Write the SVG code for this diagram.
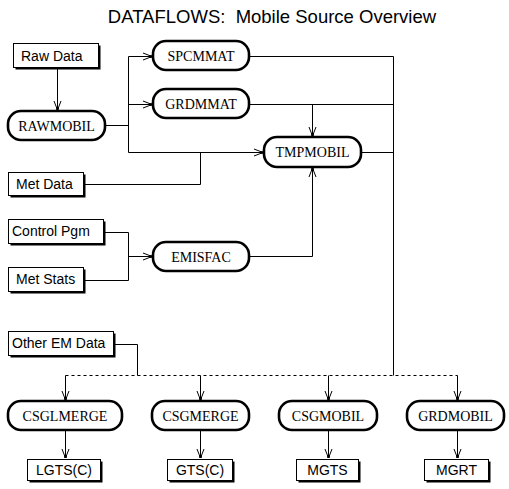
<svg xmlns="http://www.w3.org/2000/svg" width="509" height="489" viewBox="0 0 509 489">
<style>
.title{font-family:"Liberation Sans",Arial,sans-serif;font-size:18.5px;fill:#000;white-space:pre}
.bt{font-family:"Liberation Sans",Arial,sans-serif;font-size:14px;fill:#000}
.pt{font-family:"Liberation Serif","Times New Roman",serif;font-size:14px;fill:#000;text-anchor:middle}
.box{fill:#fff;stroke:#000;stroke-width:1}
.sh{fill:#000}
.pill{fill:#fff;stroke:#000;stroke-width:2.6}
.ln{fill:none;stroke:#000;stroke-width:1}
.dash{fill:none;stroke:#000;stroke-width:1;stroke-dasharray:3 3}
</style>
<defs>
<marker id="arr" viewBox="-10 -5 11 10" refX="0" refY="0" markerWidth="11" markerHeight="10" markerUnits="userSpaceOnUse" orient="auto">
<path d="M-9,-3.5 L0,0 L-9,3.5" fill="none" stroke="#000" stroke-width="1"/>
<rect x="-3" y="-1.3" width="3" height="2.6" fill="#000"/>
</marker>
</defs>
<rect width="509" height="489" fill="#fff"/>
<text class="title" x="272" y="23" text-anchor="middle" xml:space="preserve">DATAFLOWS:  Mobile Source Overview</text>

<g id="connectors">
<line class="ln" x1="57.5" y1="69" x2="57.5" y2="110" marker-end="url(#arr)"/>
<polyline class="ln" points="105,125.5 128.5,125.5"/>
<line class="ln" x1="128.5" y1="56.5" x2="128.5" y2="152.5"/>
<line class="ln" x1="128.5" y1="56.5" x2="152" y2="56.5" marker-end="url(#arr)"/>
<line class="ln" x1="128.5" y1="104.5" x2="152" y2="104.5" marker-end="url(#arr)"/>
<line class="ln" x1="128.5" y1="152.5" x2="263" y2="152.5" marker-end="url(#arr)"/>
<polyline class="ln" points="85,184.5 200.5,184.5 200.5,152.5"/>
<polyline class="ln" points="249,56.5 393.5,56.5 393.5,375.5"/>
<line class="ln" x1="249" y1="104.5" x2="393.5" y2="104.5"/>
<line class="ln" x1="312.5" y1="104.5" x2="312.5" y2="136" marker-end="url(#arr)"/>
<line class="ln" x1="361" y1="152.5" x2="393.5" y2="152.5"/>
<polyline class="ln" points="249,256.5 312.5,256.5 312.5,168" marker-end="url(#arr)"/>
<polyline class="ln" points="105,232.5 128.5,232.5 128.5,280.5 85,280.5"/>
<line class="ln" x1="128.5" y1="256.5" x2="152" y2="256.5" marker-end="url(#arr)"/>
<polyline class="ln" points="115,344.5 137.5,344.5 137.5,375.5"/>
<line class="dash" x1="65.5" y1="375.5" x2="457.5" y2="375.5"/>
<line class="ln" x1="65.5" y1="375.5" x2="65.5" y2="400" marker-end="url(#arr)"/>
<line class="ln" x1="200.5" y1="375.5" x2="200.5" y2="400" marker-end="url(#arr)"/>
<line class="ln" x1="328.5" y1="375.5" x2="328.5" y2="400" marker-end="url(#arr)"/>
<line class="ln" x1="457.5" y1="375.5" x2="457.5" y2="400" marker-end="url(#arr)"/>
<line class="ln" x1="65.5" y1="431" x2="65.5" y2="458" marker-end="url(#arr)"/>
<line class="ln" x1="200.5" y1="431" x2="200.5" y2="458" marker-end="url(#arr)"/>
<line class="ln" x1="328.5" y1="431" x2="328.5" y2="458" marker-end="url(#arr)"/>
<line class="ln" x1="457.5" y1="431" x2="457.5" y2="458" marker-end="url(#arr)"/>
</g>

<g id="rawdata"><rect class="sh" x="15.5" y="45.5" width="85" height="24"/><rect class="box" x="13.5" y="43.5" width="85" height="24"/><text class="bt" x="21" y="61">Raw Data</text></g>
<g id="metdata"><rect class="sh" x="10.5" y="174.5" width="75" height="23"/><rect class="box" x="8.5" y="172.5" width="75" height="23"/><text class="bt" x="16" y="189">Met Data</text></g>
<g id="controlpgm"><rect class="sh" x="10.5" y="221.5" width="95" height="24"/><rect class="box" x="8.5" y="219.5" width="95" height="24"/><text class="bt" x="12" y="236">Control Pgm</text></g>
<g id="metstats"><rect class="sh" x="10.5" y="269.5" width="75" height="24"/><rect class="box" x="8.5" y="267.5" width="75" height="24"/><text class="bt" x="16" y="284">Met Stats</text></g>
<g id="otheremdata"><rect class="sh" x="10.5" y="333.5" width="105" height="24"/><rect class="box" x="8.5" y="331.5" width="105" height="24"/><text class="bt" x="12" y="348">Other EM Data</text></g>

<g id="rawmobil"><rect class="pill" x="8" y="111" width="97" height="29" rx="13"/><text class="pt" x="56.5" y="130.5">RAWMOBIL</text></g>
<g id="spcmmat"><rect class="pill" x="153" y="41" width="96" height="29" rx="13"/><text class="pt" x="201" y="60.5">SPCMMAT</text></g>
<g id="grdmmat"><rect class="pill" x="153" y="89" width="96" height="29" rx="13"/><text class="pt" x="201" y="108.5">GRDMMAT</text></g>
<g id="tmpmobil"><rect class="pill" x="264" y="137" width="97" height="30" rx="13"/><text class="pt" x="312.5" y="157">TMPMOBIL</text></g>
<g id="emisfac"><rect class="pill" x="153" y="242" width="96" height="29" rx="13"/><text class="pt" x="201" y="261.5">EMISFAC</text></g>

<g id="csglmerge"><rect class="pill" x="8" y="401" width="114" height="29" rx="13"/><text class="pt" x="65" y="420.5">CSGLMERGE</text></g>
<g id="csgmerge"><rect class="pill" x="152" y="401" width="97" height="29" rx="13"/><text class="pt" x="200.5" y="420.5">CSGMERGE</text></g>
<g id="csgmobil"><rect class="pill" x="279" y="401" width="98" height="29" rx="13"/><text class="pt" x="328" y="420.5">CSGMOBIL</text></g>
<g id="grdmobil"><rect class="pill" x="407" y="401" width="97" height="29" rx="13"/><text class="pt" x="455.5" y="420.5">GRDMOBIL</text></g>

<g id="lgtsc"><rect class="sh" x="29.5" y="461.5" width="73" height="21"/><rect class="box" x="27.5" y="459.5" width="73" height="21"/><text class="bt" x="64" y="474.5" text-anchor="middle">LGTS(C)</text></g>
<g id="gtsc"><rect class="sh" x="169.5" y="461.5" width="65" height="21"/><rect class="box" x="167.5" y="459.5" width="65" height="21"/><text class="bt" x="200" y="474.5" text-anchor="middle">GTS(C)</text></g>
<g id="mgts"><rect class="sh" x="298.5" y="461.5" width="62" height="21"/><rect class="box" x="296.5" y="459.5" width="62" height="21"/><text class="bt" x="327.5" y="474.5" text-anchor="middle">MGTS</text></g>
<g id="mgrt"><rect class="sh" x="426.5" y="461.5" width="64" height="21"/><rect class="box" x="424.5" y="459.5" width="64" height="21"/><text class="bt" x="456.5" y="474.5" text-anchor="middle">MGRT</text></g>
</svg>
